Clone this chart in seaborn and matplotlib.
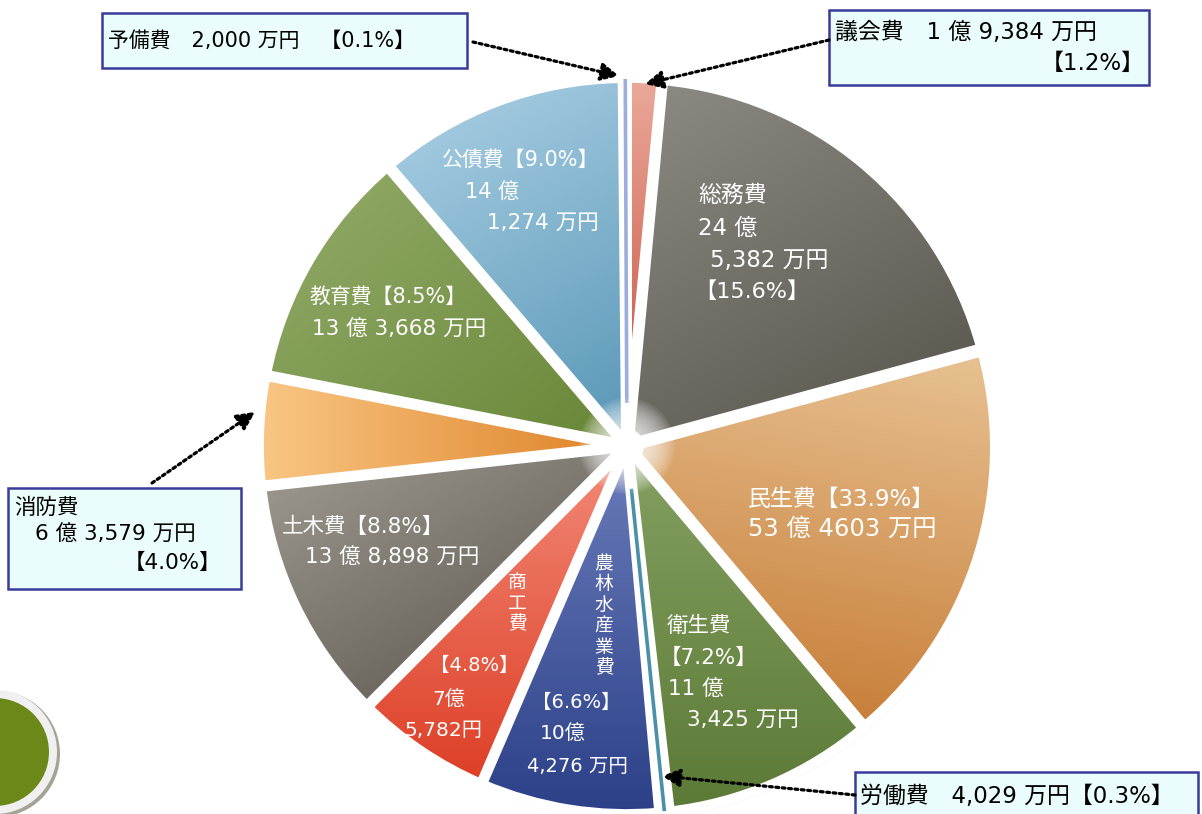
import numpy as np
import matplotlib
matplotlib.use('Agg')
import matplotlib.pyplot as plt
import matplotlib.patches as mpatches
from matplotlib.colors import to_rgb
import seaborn as sns

# budget items, clockwise from the top
categories = ['議会費', '総務費', '民生費', '衛生費', '労働費', '農林水産業費',
              '商工費', '土木費', '消防費', '教育費', '公債費', '予備費']
percents = [1.2, 15.6, 33.9, 7.2, 0.3, 6.6, 4.8, 8.8, 4.0, 8.5, 9.0, 0.1]
oku = ['1 億', '24 億', '53 億', '11 億', '', '10億', '7億', '13 億', '6 億', '13 億', '14 億', '']
man = ['9,384 万円', '5,382 万円', '4603 万円', '3,425 万円', '4,029 万円', '4,276 万円',
       '5,782円', '8,898 万円', '3,579 万円', '3,668 万円', '1,274 万円', '2,000 万円']
# wedge sizes as drawn in the picture (share of the circle, %)
wedge_share = [1.5, 19.3, 18.1, 9.3, 0.4, 7.9, 6.0, 10.8, 4.8, 10.7, 11.1, 0.15]

# light / dark colour of each wedge and gradient direction (deg, y down)
grad = [('#eaa99a', '#c64a3a', 90), ('#8e8b84', '#55524a', 60), ('#e8c293', '#c47830', 100),
        ('#84a062', '#5c7a36', 90), ('#4a90a8', '#3a7890', 90), ('#6a7cba', '#2c4088', 90),
        ('#f28a78', '#de3e26', 90), ('#a09c92', '#55514a', 60), ('#f9c684', '#de8226', 0),
        ('#94ad6c', '#688636', 50), ('#aed2e6', '#5896b6', 60), ('#9eaedc', '#8a9ad0', 90)]

sns.set_theme(style='white')
plt.rcParams['font.family'] = ['DejaVu Sans', 'Noto Sans CJK JP']

fig = plt.figure(figsize=(12.02, 8.14), dpi=100)
ax = fig.add_axes([0, 0, 1, 1])

cx, cy, R = 627, 446, 365
mid_colors = [sns.blend_palette([a, b], 3)[1] for a, b, _ in grad]
wedges, _ = ax.pie(wedge_share, startangle=-90, counterclock=True, radius=R,
                   center=(cx, cy), explode=[3] * len(wedge_share), colors=mid_colors,
                   wedgeprops=dict(linewidth=0, zorder=2), frame=True)

thin = [4, 11]
for i, w in enumerate(wedges):
    c1, c2, ang = grad[i]
    # faint shadow along the outer rim
    ax.add_patch(mpatches.Wedge((w.center[0] + 1, w.center[1] + 2), w.r + 3, w.theta1, w.theta2,
                                width=40, fc='#888888', ec='none', alpha=0.12, zorder=1))
    if i in thin:
        continue
    ext = w.get_path().get_extents()
    xs = np.linspace(ext.x0, ext.x1, 120)
    ys = np.linspace(ext.y0, ext.y1, 120)
    X, Y = np.meshgrid(xs, ys)
    p = X * np.cos(np.radians(ang)) + Y * np.sin(np.radians(ang))
    t = (p - p.min()) / (p.max() - p.min())
    img = np.array(to_rgb(c1))[None, None, :] * (1 - t[..., None]) + \
        np.array(to_rgb(c2))[None, None, :] * t[..., None]
    im = ax.imshow(img, extent=[ext.x0, ext.x1, ext.y0, ext.y1], origin='lower',
                   interpolation='bilinear', zorder=2.5)
    im.set_clip_path(w)

# white gaps between wedges
for w in wedges:
    ax.add_patch(mpatches.Wedge(w.center, w.r, w.theta1, w.theta2, fc='none',
                                ec='white', lw=7, joinstyle='round', zorder=3))

# the two very thin wedges
for i in thin:
    w = wedges[i]
    th = np.radians((w.theta1 + w.theta2) / 2)
    r0 = 40
    ax.plot([w.center[0] + r0 * np.cos(th), w.center[0] + (w.r - 1) * np.cos(th)],
            [w.center[1] + r0 * np.sin(th), w.center[1] + (w.r - 1) * np.sin(th)],
            color=grad[i][0], lw=2.6, solid_capstyle='butt', zorder=3.2)

# soft white glow at the centre
for rr in np.arange(48, 16, -2):
    ax.add_patch(mpatches.Circle((cx, cy), rr, fc='white', ec='none', alpha=0.08, zorder=3.5))
ax.add_patch(mpatches.Circle((cx, cy), 17, fc='white', ec='none', zorder=3.6))

# labels inside the wedges: (template, x, y, fontsize)
layout = {
    1: [('{c}', 698, 195, 16.5), ('{o}', 698, 228, 16.5), ('{m}', 710, 260, 16.5),
        ('【{p}】', 694, 292, 16)],
    2: [('{c}【{p}】', 748, 499, 16.5), ('{o} {m}', 748, 529, 17.5)],
    3: [('{c}', 667, 626, 15.5), ('【{p}】', 660, 658, 15.5), ('{o}', 668, 690, 15.5),
        ('{m}', 687, 720, 15.5)],
    5: [('【{p}】', 532, 702, 14), ('{o}', 540, 733, 14.5), ('{m}', 527, 767, 14)],
    6: [('【{p}】', 430, 665, 14), ('{o}', 432, 699, 14.5), ('{m}', 404, 730, 14.5)],
    7: [('{c}【{p}】', 282, 527, 15.5), ('{o} {m}', 305, 558, 15.5)],
    9: [('{c}【{p}】', 310, 297, 15), ('{o} {m}', 312, 330, 15.5)],
    10: [('{c}【{p}】', 442, 160, 15), ('{o}', 465, 192, 15), ('{m}', 487, 223, 15.5)],
}
for i, lines in layout.items():
    for tpl, x, y, fs in lines:
        s = tpl.format(c=categories[i], p=f'{percents[i]:.1f}%', o=oku[i], m=man[i])
        ax.text(x, y, s, color='white', fontsize=fs, va='center', ha='left', zorder=6)

# vertical category names
ax.text(604, 616, '\n'.join(categories[5]), color='white', fontsize=13.5,
        ha='center', va='center', linespacing=1.12, zorder=6)
ax.text(517, 603, '\n'.join(categories[6]), color='white', fontsize=13.5,
        ha='center', va='center', linespacing=1.12, zorder=6)

# callout boxes
box = dict(fc='#eafcfc', ec='#3b3b9c', lw=1.8, zorder=7)
ax.add_patch(mpatches.Rectangle((102, 13), 365, 55, **box))
ax.add_patch(mpatches.Rectangle((829, 10), 320, 75, **box))
ax.add_patch(mpatches.Rectangle((8, 488), 233, 101, **box))
ax.add_patch(mpatches.Rectangle((855, 772), 343, 60, **box))

btxt = dict(color='black', va='center', zorder=8)
ax.text(108, 41, f'{categories[11]}　{man[11]}　【{percents[11]:.1f}%】', ha='left',
        fontsize=15, **btxt)
ax.text(835, 33, f'{categories[0]}　{oku[0]} {man[0]}', ha='left', fontsize=16.5, **btxt)
ax.text(1145, 63, f'【{percents[0]:.1f}%】', ha='right', fontsize=16.5, **btxt)
ax.text(14, 508, categories[8], ha='left', fontsize=15.5, **btxt)
ax.text(35, 535, f'{oku[8]} {man[8]}', ha='left', fontsize=15.5, **btxt)
ax.text(124, 563, f'【{percents[8]:.1f}%】', ha='left', fontsize=15.5, **btxt)
ax.text(860, 797, f'{categories[4]}　{man[4]}【{percents[4]:.1f}%】', ha='left',
        fontsize=16.5, **btxt)

# dotted arrows
arr = dict(arrowstyle='-|>,head_length=0.9,head_width=0.45', linestyle=(0, (0.9, 1.1)),
           lw=2.3, color='black', shrinkA=0, shrinkB=0)
for tail, head in [((473, 42), (619, 76)), ((829, 40), (645, 84)),
                   ((152, 483), (255, 412)), ((855, 795), (662, 776))]:
    ax.annotate('', xy=head, xytext=tail, arrowprops=arr, zorder=9)

# decorative circle at lower left
ax.add_patch(mpatches.Circle((-3, 754), 63, fc='#a4a496', ec='none', zorder=7))
ax.add_patch(mpatches.Circle((-5, 752), 62, fc='#f0f0f0', ec='none', zorder=7.1))
ax.add_patch(mpatches.Circle((-5, 752), 54, fc='#6b8818', ec='none', zorder=7.2))

ax.set_xlim(0, 1202)
ax.set_ylim(814, 0)
ax.set_aspect('equal')
ax.axis('off')
fig.savefig('out.png', dpi=100)
